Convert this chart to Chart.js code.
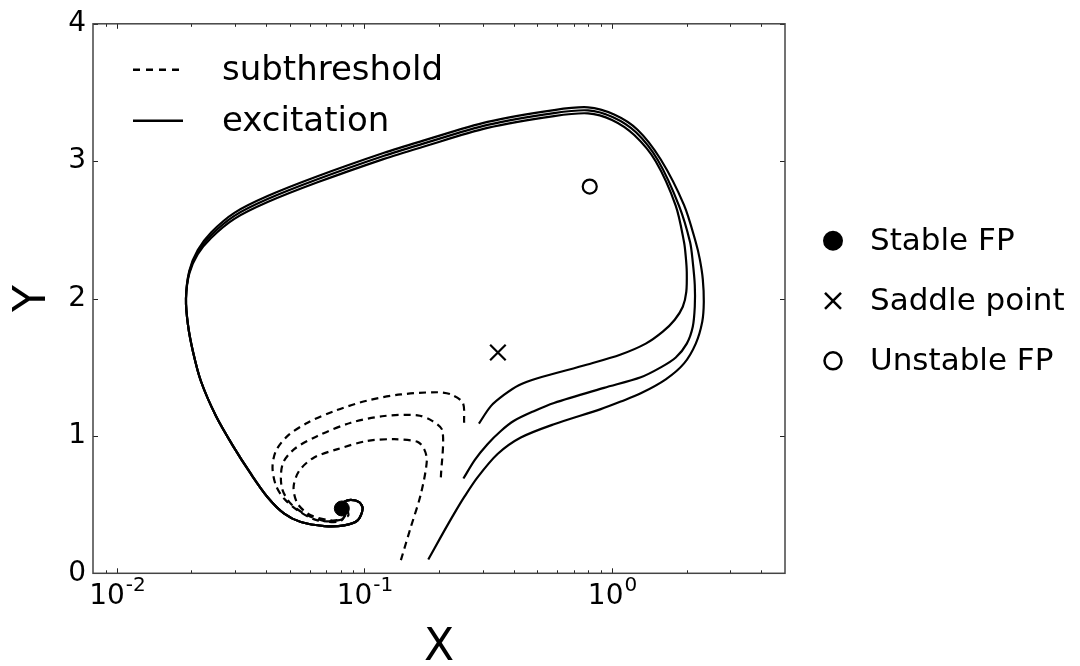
<!DOCTYPE html>
<html><head><meta charset="utf-8">
<script src="https://cdn.jsdelivr.net/npm/chart.js@4/dist/chart.umd.min.js"></script>
<style>html,body{margin:0;padding:0;background:#fff;}</style>
</head><body>
<canvas id="c" width="1080" height="666"></canvas>
<script>
// ---------- data ----------
const xLimits = [0.008, 5];
const yLimits = [0, 4];
const xMajorTicks = [0.01, 0.1, 1];
const xMajorExponents = ['-2', '-1', '0'];
const xMinorTicks = [0.009, 0.02, 0.03, 0.04, 0.05, 0.06, 0.07, 0.08, 0.09,
                     0.2, 0.3, 0.4, 0.5, 0.6, 0.7, 0.8, 0.9, 2, 3, 4];
const yTicks = [0, 1, 2, 3, 4];

// excitation trajectories: individual heads + shared tail into the stable FP
const exc1X = [0.181,0.2035,0.2303,0.2527,0.2862,0.3448,0.428,0.583,0.901,1.085,1.307,1.649,1.955,2.180,2.316,2.349,2.327,2.263,2.180,1.955,1.574,1.268,1.02,0.80,0.583,0.314,0.169,0.120,0.0646,0.0406,0.0298,0.0240,0.0212,0.0196];
const exc1Y = [0.10,0.265,0.434,0.554,0.698,0.868,0.988,1.085,1.195,1.25,1.31,1.412,1.528,1.672,1.832,1.976,2.142,2.287,2.41,2.68,3.012,3.229,3.34,3.392,3.372,3.286,3.144,3.061,2.89,2.746,2.624,2.481,2.353,2.203];
const exc2X = [0.251,0.2792,0.314,0.3556,0.402,0.4832,0.583,0.929,1.307,1.574,1.810,2.005,2.120,2.160,2.160,2.120,2.068,1.866,1.535,1.25,1.01,0.80,0.583,0.314,0.169,0.120,0.0646,0.0406,0.0298,0.0240,0.0212,0.0196];
const exc2Y = [0.69,0.826,0.94,1.036,1.11,1.18,1.24,1.35,1.427,1.499,1.571,1.672,1.795,1.940,2.099,2.265,2.41,2.675,3.005,3.21,3.32,3.37,3.35,3.264,3.122,3.039,2.868,2.724,2.602,2.461,2.338,2.193];
const exc3X = [0.290,0.324,0.367,0.4203,0.500,0.796,1.085,1.369,1.604,1.793,1.932,1.996,2.005,1.987,1.955,1.810,1.503,1.23,1.00,0.80,0.583,0.314,0.169,0.120,0.0646,0.0406,0.0298,0.0240,0.0212,0.0196];
const exc3Y = [1.09,1.217,1.30,1.369,1.42,1.52,1.593,1.672,1.759,1.846,1.940,2.048,2.193,2.302,2.41,2.675,2.998,3.19,3.30,3.348,3.328,3.242,3.10,3.017,2.846,2.702,2.58,2.441,2.323,2.183];
const tailX = [0.0190,0.01935,0.02027,0.02184,0.02511,0.02941,0.03477,0.0406,0.0474,0.0553,0.0688,0.0828,0.0938,0.0983,0.0952,0.0881,0.0825,0.0800,0.0810];
const tailY = [2.00,1.81,1.615,1.398,1.145,0.928,0.723,0.554,0.434,0.373,0.344,0.349,0.385,0.47,0.518,0.535,0.52,0.495,0.475];

// subthreshold trajectories
const sub1X = [0.2527,0.2496,0.2234,0.1973,0.1403,0.1029,0.0754,0.0589,0.0489,0.0439,0.0425,0.0439,0.0474,0.0537,0.0646,0.0779,0.0860,0.0850];
const sub1Y = [1.096,1.241,1.302,1.318,1.302,1.258,1.181,1.096,1.0,0.892,0.771,0.638,0.542,0.458,0.385,0.385,0.42,0.465];
const sub2X = [0.2035,0.2067,0.1884,0.1639,0.1201,0.0881,0.0646,0.0520,0.0467,0.0463,0.0504,0.0589,0.0698,0.0800,0.0850];
const sub2Y = [0.698,1.036,1.108,1.150,1.145,1.096,1.0,0.904,0.795,0.626,0.506,0.422,0.378,0.38,0.44];
const sub3X = [0.1403,0.1539,0.169,0.1786,0.1742,0.1639,0.1318,0.1029,0.0779,0.0626,0.0545,0.0517,0.0537,0.0607,0.0731,0.0820,0.0840];
const sub3Y = [0.096,0.337,0.578,0.819,0.904,0.957,0.976,0.964,0.904,0.843,0.747,0.626,0.506,0.422,0.385,0.40,0.45];

// fixed points
const stableFP = [0.081, 0.472];
const saddlePoint = [0.346, 1.607];
const unstableFP = [0.813, 2.815];

const lineLegend = ['subthreshold', 'excitation'];
const markerLegend = ['Stable FP', 'Saddle point', 'Unstable FP'];
const axisTitles = ['X', 'Y'];

// ---------- build ----------
const FONT = "'DejaVu Sans', sans-serif";
const pts = (xs, ys) => xs.map((v, i) => ({x: v, y: ys[i]}));

const lineStyle = {borderColor:'#000', borderWidth:2.2, pointRadius:0, tension:0.3,
  fill:false, borderJoinStyle:'round', showLine:true};

const datasets = [
  {label: markerLegend[0], data: pts([stableFP[0]],[stableFP[1]]), showLine:false,
   pointStyle:'circle', pointRadius:7.5, backgroundColor:'#000', borderColor:'#000', pointBorderWidth:1},
  {label: markerLegend[1], data: pts([saddlePoint[0]],[saddlePoint[1]]), showLine:false,
   pointStyle:'crossRot', pointRadius:11, backgroundColor:'#000', borderColor:'#000', pointBorderWidth:2.2},
  {label: markerLegend[2], data: pts([unstableFP[0]],[unstableFP[1]]), showLine:false,
   pointStyle:'circle', pointRadius:7, backgroundColor:'#fff', borderColor:'#000', pointBorderWidth:2.2},
  Object.assign({label: lineLegend[1], data: pts(exc1X.concat(tailX), exc1Y.concat(tailY))}, lineStyle),
  Object.assign({label: lineLegend[1], data: pts(exc2X.concat(tailX), exc2Y.concat(tailY))}, lineStyle),
  Object.assign({label: lineLegend[1], data: pts(exc3X.concat(tailX), exc3Y.concat(tailY))}, lineStyle),
  Object.assign({label: lineLegend[0], data: pts(sub1X, sub1Y), borderDash:[7,5]}, lineStyle),
  Object.assign({label: lineLegend[0], data: pts(sub2X, sub2Y), borderDash:[7,5]}, lineStyle),
  Object.assign({label: lineLegend[0], data: pts(sub3X, sub3Y), borderDash:[7,5]}, lineStyle),
];

const decorPlugin = {
  id: 'decor',
  afterDatasetsDraw(chart) {
    const {ctx, chartArea: a, scales: {x, y}} = chart;
    ctx.save();
    ctx.setLineDash([]);
    ctx.strokeStyle = '#222';
    ctx.lineWidth = 1;
    ctx.beginPath();
    const vtick = (v, len) => {
      const px = Math.round(x.getPixelForValue(v)) + 0.5;
      ctx.moveTo(px, a.bottom); ctx.lineTo(px, a.bottom - len);
      ctx.moveTo(px, a.top); ctx.lineTo(px, a.top + len);
    };
    xMajorTicks.forEach(v => vtick(v, 5));
    xMinorTicks.forEach(v => vtick(v, 3));
    yTicks.forEach(v => {
      const py = Math.round(y.getPixelForValue(v)) + 0.5;
      ctx.moveTo(a.left, py); ctx.lineTo(a.left + 5, py);
      ctx.moveTo(a.right, py); ctx.lineTo(a.right - 5, py);
    });
    ctx.stroke();
    ctx.strokeStyle = '#444';
    ctx.lineWidth = 1.5;
    ctx.strokeRect(a.left, a.top, a.right - a.left, a.bottom - a.top);

    // x tick labels: 10^n with superscript
    ctx.fillStyle = '#000';
    ctx.textBaseline = 'alphabetic';
    ctx.textAlign = 'left';
    xMajorTicks.forEach((v, i) => {
      const px = x.getPixelForValue(v);
      ctx.font = `28px ${FONT}`;
      const wb = ctx.measureText('10').width;
      ctx.font = `20px ${FONT}`;
      const ws = ctx.measureText(xMajorExponents[i]).width;
      const x0 = px - (wb + ws) / 2;
      ctx.font = `28px ${FONT}`;
      ctx.fillText('10', x0, a.bottom + 31);
      ctx.font = `20px ${FONT}`;
      ctx.fillText(xMajorExponents[i], x0 + wb + 1, a.bottom + 18);
    });

    // inner legend (line styles)
    const lx = a.left + 40, ly1 = a.top + 46, ly2 = a.top + 97;
    ctx.strokeStyle = '#000';
    ctx.lineWidth = 2.5;
    ctx.beginPath();
    ctx.setLineDash([7,6]);
    ctx.moveTo(lx, ly1); ctx.lineTo(lx + 50, ly1);
    ctx.stroke();
    ctx.beginPath();
    ctx.setLineDash([]);
    ctx.moveTo(lx, ly2); ctx.lineTo(lx + 50, ly2);
    ctx.stroke();
    ctx.font = `34px ${FONT}`;
    ctx.textBaseline = 'middle';
    ctx.fillText(lineLegend[0], lx + 89, ly1 + 1);
    ctx.fillText(lineLegend[1], lx + 89, ly2 + 1);

    // outer legend (fixed points)
    const mx = a.right + 48, tx = a.right + 85;
    const rows = [a.top + 217, a.top + 277, a.top + 337];
    ctx.font = `31px ${FONT}`;
    ctx.fillStyle = '#000';
    ctx.beginPath(); ctx.arc(mx, rows[0], 10, 0, Math.PI * 2); ctx.fill();
    ctx.lineWidth = 2.5;
    ctx.beginPath();
    ctx.moveTo(mx - 8, rows[1] - 8); ctx.lineTo(mx + 8, rows[1] + 8);
    ctx.moveTo(mx + 8, rows[1] - 8); ctx.lineTo(mx - 8, rows[1] + 8);
    ctx.stroke();
    ctx.beginPath(); ctx.arc(mx, rows[2], 8.5, 0, Math.PI * 2); ctx.stroke();
    markerLegend.forEach((t, i) => ctx.fillText(t, tx, rows[i] + 1));
    ctx.restore();
  }
};

new Chart(document.getElementById('c'), {
  type: 'line',
  data: {datasets},
  options: {
    responsive: false,
    animation: false,
    events: [],
    layout: {padding: {left: 0, top: 20, right: 295, bottom: 0}},
    plugins: {legend: {display: false}, tooltip: {enabled: false}},
    scales: {
      x: {
        type: 'logarithmic', min: xLimits[0], max: xLimits[1], bounds: 'data',
        grid: {display: false, drawTicks: false},
        border: {display: false},
        ticks: {display: false},
        title: {display: true, text: axisTitles[0], color: '#000',
                font: {family: FONT, size: 44, lineHeight: 0.8}, padding: {top: 0, bottom: 0}},
        afterFit(s) { s.height = 92.7; }
      },
      y: {
        type: 'linear', min: yLimits[0], max: yLimits[1],
        grid: {display: false, drawTicks: false},
        border: {display: false},
        ticks: {stepSize: 1, color: '#000', padding: 7, font: {family: FONT, size: 28}},
        title: {display: true, text: axisTitles[1], color: '#000',
                font: {family: FONT, size: 44, lineHeight: 0.8}, padding: {top: 16, bottom: 0}},
        afterFit(s) { s.width = 93; }
      }
    }
  },
  plugins: [decorPlugin]
});
</script>
</body></html>
